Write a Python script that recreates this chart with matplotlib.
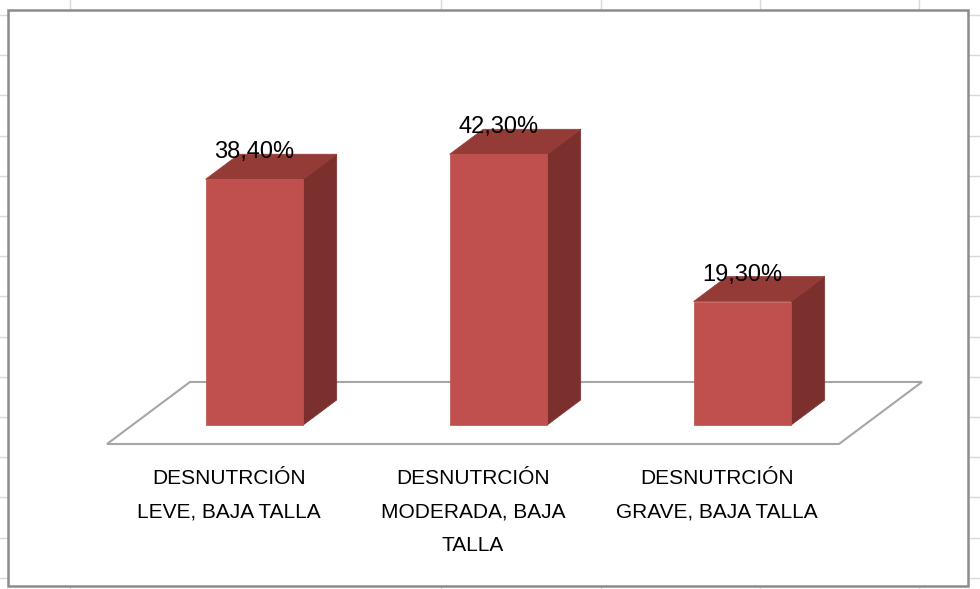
import matplotlib.pyplot as plt
from matplotlib.patches import Polygon, Rectangle
from matplotlib.lines import Line2D

categorias = ["DESNUTRCIÓN\nLEVE, BAJA TALLA",
              "DESNUTRCIÓN\nMODERADA, BAJA\nTALLA",
              "DESNUTRCIÓN\nGRAVE, BAJA TALLA"]
valores = [38.4, 42.3, 19.3]
etiquetas = ["38,40%", "42,30%", "19,30%"]

# profundidad (efecto 3D de Excel)
DX, DY = 0.340, 9.69
D0, D1 = 0.306, 0.71
ANCHO = 0.2

FRENTE = "#c0504d"
LADO = "#7b302e"
TAPA = "#943b38"

plt.rcParams['font.family'] = ['Liberation Sans', 'DejaVu Sans']

def proy(x, y, d):
	return (x + d * DX, y + d * DY)

def main():
	fig = plt.figure(figsize=(9.8, 5.89), dpi=100)

	# cuadricula de la hoja de calculo detras del grafico
	for k in range(15):
		y = 1 - (15 + 40.2 * k) / 589
		fig.add_artist(Line2D([0, 1], [y, y], color="#dadada", lw=1, zorder=-3))
	for x in [70, 441, 601, 760, 919]:
		fig.add_artist(Line2D([x / 980, x / 980], [0, 1], color="#dadada", lw=1, zorder=-3))
	fig.add_artist(Rectangle((8 / 980, 1 - 586 / 589), 960 / 980, 576 / 589,
	                         facecolor="white", edgecolor="#8c8c8c", lw=1.8, zorder=-2))

	ax = fig.add_axes([0, 0, 1, 1])
	ax.set_xlim(-229 / 244, (980 - 229) / 244)
	ax.set_ylim((444 - 589) / 6.4, 444 / 6.4)
	ax.axis("off")

	# suelo
	suelo = [proy(-0.5, 0, 0), proy(2.5, 0, 0), proy(2.5, 0, 1), proy(-0.5, 0, 1)]
	ax.add_patch(Polygon(suelo, closed=True, facecolor="white", edgecolor="#a6a6a6", lw=1.5))

	for i, v in enumerate(valores):
		x0, x1 = i - ANCHO, i + ANCHO
		frente = [proy(x0, 0, D0), proy(x1, 0, D0), proy(x1, v, D0), proy(x0, v, D0)]
		lado = [proy(x1, 0, D0), proy(x1, 0, D1), proy(x1, v, D1), proy(x1, v, D0)]
		tapa = [proy(x0, v, D0), proy(x1, v, D0), proy(x1, v, D1), proy(x0, v, D1)]
		ax.add_patch(Polygon(lado, closed=True, facecolor=LADO, edgecolor=LADO, lw=0.5))
		ax.add_patch(Polygon(tapa, closed=True, facecolor=TAPA, edgecolor=TAPA, lw=0.5))
		ax.add_patch(Polygon(frente, closed=True, facecolor=FRENTE, edgecolor=FRENTE, lw=0.5))
		lx, ly = proy(i, v, D1)
		ax.text(lx - (D1 - D0) * DX, ly + 0.3, etiquetas[i], ha="center", va="center",
		        fontsize=17, color="black")
		ax.text(i, -3.95, categorias[i], ha="center", va="top", fontsize=15,
		        linespacing=1.95, color="black")

	fig.savefig("out.png", dpi=100)

if __name__ == '__main__':
	main()
